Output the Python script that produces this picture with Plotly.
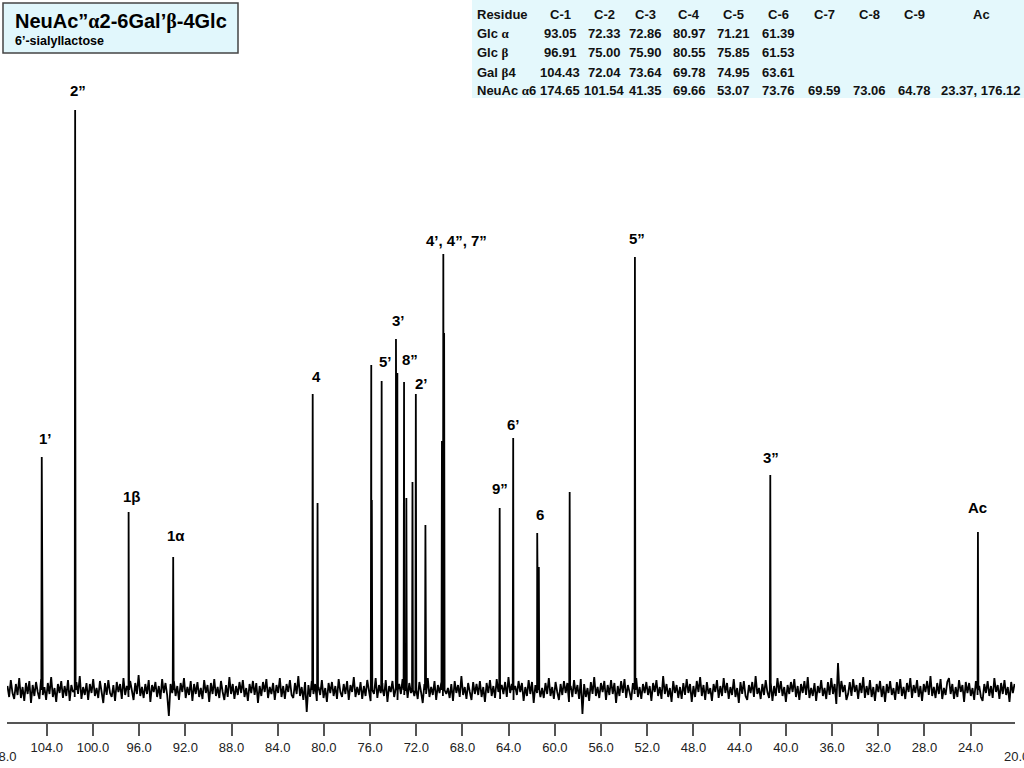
import numpy as np
import plotly.graph_objects as go

# picos del espectro 13C: desplazamiento (ppm) y altura (px sobre la linea base)
pico_ppm = [104.43, 101.54, 96.91, 93.05, 80.97, 80.55, 75.90, 75.85, 75.00, 74.95,
            73.76, 73.64, 73.06, 72.86, 72.33, 72.04, 71.21, 69.78, 69.66, 69.59,
            64.78, 63.61, 61.53, 61.39, 58.72, 53.07, 41.35, 23.37]
pico_alto = [233, 580, 178, 133, 296, 187, 325, 190, 309, 237,
             351, 317, 308, 192, 208, 296, 165, 249, 436, 357,
             182, 252, 157, 123, 198, 433, 215, 158]

# asignaciones sobre los picos
etiquetas = ["1’", "2”", "1β", "1α", "4", "5’", "3’", "8”", "2’", "4’, 4”, 7”",
             "9”", "6’", "6", "5”", "3”", "Ac"]
etiqueta_ppm = [104.15, 101.29, 96.61, 92.80, 80.68, 74.71, 73.58, 72.54, 71.59, 68.55,
                64.75, 63.55, 61.30, 52.90, 41.26, 23.45]
etiqueta_y = [252, 600, 194, 155, 314, 329, 370, 331, 307, 450,
              202, 266, 176, 452, 233, 183]

# ruido de la linea base (leido a ojo, px)
ruido = [4, -7, 10, -3, -9, 6, -5, 12, -8, 3, -11, 7, -4, 9, -13, 5, -6, 8, -2, -9,
         11, -5, 3, -10, 7, -4, 13, -7, 2, -12, 6, -3, 9, -8, 4, -6, 10, -11, 5, -2,
         -7, 8, -4, 14, -9, 3, -5, 7, -10, 6, -3, 11, -6, 2, -8, 9, -4, -13, 7, -5,
         10, -3, -7, 5, -11, 8, -2, 6, -9, 12, -5, 4, -7, 9, -3, -10, 7, -4, 15, -6,
         3, -8, 6, -4, 10, -12, 5, -2, 8, -7, 4, -9, 11, -3, 7, -5, -26, 6, -3, 9,
         -6, 4, -10, 7, -2, 12, -8, 3, -5, 9, -11, 6, -4, 8, -7, 2, -9, 10, -3, 5,
         -12, 7, -4, 11, -6, 3, -8, 9, -2, -10, 5, -7, 13, -4, 6, -9, 4, -5, 8, -3,
         10, -7, 2, -11, 6, -3, 9, -5, 7, -13, 4, -6, 8, -2, 11, -8, 3, -4, 7, -10,
         5, -3, 12, -7, 4, -9, 6, -2, 10, -5, -8, 7, -4, 14, -6, 3, -10, 8, -22, 5,
         -7, 9, -4, 6, -11, 3, -5, 10, -8, 2, -12, 7, -3, 8, -6, 4, -9, 11, -2, -7,
         6, -4, 9, -10, 5, -2, 13, -7, 3, -5, 8, -9, 4, -6, 10, -3, -11, 7, -4, 12,
         -8, 5, -3, 7, -6, 10, -12, 4, -2, 9, -7, 3, -10, 6, -4, 11, -5, 2, -8, 7,
         -3, 10, -6, 4, -9, 8, -2, -13, 6, -4, 12, -7, 3, -5, 9, -10, 5, -3, 7, -6,
         11, -4, 2, -8, 6, -11, 9, -3, 5, -7, 14, -5, 3, -9, 7, -2, -10, 8, -4, 6,
         -5, 9, -7, 3, -12, 7, -3, 10, -6, 4, -8, 11, -2, -9, 5, -4, 8, -7, 13, -3,
         6, -10, 4, -5, 9, -2, 7, -11, 3, -6, 10, -4, 8, -13, 5, -3, 11, -7, 2, -8,
         7, -4, 12, -6, 3, -9, 8, -2, -10, 6, -5, 9, -3, 7, -12, 4, -7, 10, -4, 5,
         -9, 11, -24, 6, -7, 2, -11, 8, -4, 13, -6, 3, -8, 7, -2, 9, -10, 5, -5, 10,
         -4, 7, -13, 4, -6, 9, -3, 11, -8, 5, -2, -10, 7, -4, 12, -7, 3, -9, 6, -3,
         8, -5, 4, -11, 7, -2, 10, -6, 3, -9, 14, -4, 6, -7, 2, -12, 9, -3, 5, -8,
         3, -9, 7, -5, 11, -3, 6, -12, 4, -7, 9, -2, 13, -6, 5, -10, 8, -4, 2, -11,
         6, -2, 10, -8, 4, -6, 12, -3, 7, -9, 3, -5, 11, -7, 2, -13, 8, -4, 9, -6,
         -10, 5, -3, 8, -7, 14, -4, 2, -9, 6, -5, 10, -2, -8, 7, -11, 4, -6, 12, -3,
         9, -6, 3, -12, 5, -4, 8, -2, 11, -7, 4, -10, 6, -3, 9, -5, 13, -8, 2, -6,
         7, -11, 4, -3, 10, -6, 2, -9, 8, -5, 12, -4, 6, -14, 27, -7, 9, -2, 5, -10,
         -4, 8, -6, 11, -2, 5, -9, 7, -3, 13, -8, 4, -5, 10, -7, 3, -11, 6, -2, 9,
         -7, 4, -12, 6, -3, 9, -5, 2, -10, 8, -4, 11, -6, 3, -9, 7, -2, 12, -8, 5,
         -3, 10, -7, 4, -11, 6, -2, 9, -5, 14, -6, 3, -8, 7, -4, 11, -9, 2, -5, 8,
         12, -4, 6, -9, 3, -7, 10, -2, 5, -12, 8, -3, 7, -6, 2, -10, 9, -5, 4, -7,
         -11, 6, -3, 9, -6, 4, -8, 12, -2, 5, -9, 7, -4, 10, -5, 3, -12, 8, -3, 6]
ruido_ini, ruido_fin = 107.40, 20.20

ticks = [104.0, 100.0, 96.0, 92.0, 88.0, 84.0, 80.0, 76.0, 72.0, 68.0, 64.0,
         60.0, 56.0, 52.0, 48.0, 44.0, 40.0, 36.0, 32.0, 28.0, 24.0]
ticks_cortados = [108.0, 20.0]

# tabla de desplazamientos
columnas = ["C-1", "C-2", "C-3", "C-4", "C-5", "C-6", "C-7", "C-8", "C-9", "Ac"]
residuos = ["Glc α", "Glc β", "Gal β4", "NeuAc α6"]
glc_a = ["93.05", "72.33", "72.86", "80.97", "71.21", "61.39", "", "", "", ""]
glc_b = ["96.91", "75.00", "75.90", "80.55", "75.85", "61.53", "", "", "", ""]
gal_b4 = ["104.43", "72.04", "73.64", "69.78", "74.95", "63.61", "", "", "", ""]
neuac_a6 = ["174.65", "101.54", "41.35", "69.66", "53.07", "73.76", "69.59", "73.06", "64.78", "23.37, 176.12"]

X_RANGO = [107.44, 20.16]
Y_RANGO = [-32, 690]
FUENTE = "Arial, Liberation Sans, sans-serif"

# area del grafico en px de la pagina
L, R, T, B = 7, 1015, 0, 722


def px_x(px):
    return (px - L) / (R - L)


def px_y(py):
    return (B - py) / (B - T)


def ppm_x(ppm):
    return (X_RANGO[0] - ppm) / (X_RANGO[0] - X_RANGO[1])


def griego(txt):
    # las letras griegas de la tabla van en fuente serif
    for g in "αβ":
        txt = txt.replace(g, f"<span style='font-family:Liberation Serif'>{g}</span>")
    return txt


def nota(x, y, txt, fuente, xanchor="center", ref="paper"):
    return dict(x=x, y=y, xref=ref, yref=ref if ref == "paper" else "y", text=txt,
                showarrow=False, xanchor=xanchor, yanchor="middle", font=fuente)


# traza unica: ruido + picos como agujas
puntos = list(zip(np.linspace(ruido_ini, ruido_fin, len(ruido)), ruido))
for p, h in zip(pico_ppm, pico_alto):
    puntos += [(p + 0.04, 0), (p, h), (p - 0.04, 0)]
puntos.sort(key=lambda t: -t[0])
xs = [t[0] for t in puntos]
ys = [t[1] for t in puntos]

fig = go.Figure()
fig.add_trace(go.Scatter(x=xs, y=ys, mode="lines",
                         line={"color": "black", "width": 1.8},
                         hoverinfo="skip", showlegend=False))

anotaciones = []
fuente_pico = {"family": FUENTE, "size": 15, "color": "black", "weight": "bold"}
for txt, x, y in zip(etiquetas, etiqueta_ppm, etiqueta_y):
    anotaciones.append(nota(x, y, txt, fuente_pico, ref="x"))

# recuadro del titulo
anotaciones.append(nota(px_x(13), px_y(21), griego("NeuAc”α2-6Gal’β-4Glc"),
                        {"family": FUENTE, "size": 20, "color": "black", "weight": "bold"},
                        xanchor="left"))
anotaciones.append(nota(px_x(13), px_y(41), "6’-sialyllactose",
                        {"family": FUENTE, "size": 12.5, "color": "black", "weight": "bold"},
                        xanchor="left"))

# tabla
col_x = [560, 604, 645, 689, 733, 778, 824, 869, 914, 981]
fila_y = [14, 33, 53, 72, 90]
fuente_tabla = {"family": FUENTE, "size": 13, "color": "#111", "weight": "bold"}
anotaciones.append(nota(px_x(475), px_y(fila_y[0]), "Residue", fuente_tabla, xanchor="left"))
for c, cx in zip(columnas, col_x):
    anotaciones.append(nota(px_x(cx), px_y(fila_y[0]), c, fuente_tabla))
for nombre, fila, fy in zip(residuos, [glc_a, glc_b, gal_b4, neuac_a6], fila_y[1:]):
    anotaciones.append(nota(px_x(475), px_y(fy), griego(nombre), fuente_tabla, xanchor="left"))
    for v, cx in zip(fila, col_x):
        if v:
            anotaciones.append(nota(px_x(cx), px_y(fy), v, fuente_tabla))

# etiquetas de eje cortadas en los bordes
for t in ticks_cortados:
    anotaciones.append(nota(ppm_x(t), px_y(756), f"{t:.1f}",
                            {"family": FUENTE, "size": 13, "color": "#222"}))

formas = [
    dict(type="rect", xref="paper", yref="paper", x0=px_x(3), x1=px_x(238),
         y0=px_y(53), y1=px_y(3), fillcolor="#e1f7fc", line={"color": "#444", "width": 1.5},
         layer="below"),
    dict(type="rect", xref="paper", yref="paper", x0=px_x(472), x1=px_x(1024),
         y0=px_y(98), y1=px_y(0), fillcolor="#e4f8fc", line={"width": 0},
         layer="below"),
]

fig.update_layout(
    width=1024, height=768,
    margin={"l": L, "r": 1024 - R, "t": T, "b": 768 - B},
    paper_bgcolor="white", plot_bgcolor="white",
    annotations=anotaciones, shapes=formas,
    xaxis={"range": X_RANGO, "tickvals": ticks, "ticktext": [f"{t:.1f}" for t in ticks],
           "showgrid": False, "zeroline": False, "showline": True,
           "linecolor": "#555", "linewidth": 2, "ticks": "outside", "ticklen": 12,
           "tickwidth": 2, "tickcolor": "#555",
           "tickfont": {"family": FUENTE, "size": 13, "color": "#222"}},
    yaxis={"range": Y_RANGO, "visible": False, "showgrid": False, "zeroline": False},
)

fig.write_html("out.html", config={"displayModeBar": False},
               post_script="document.body.style.margin='0';")
